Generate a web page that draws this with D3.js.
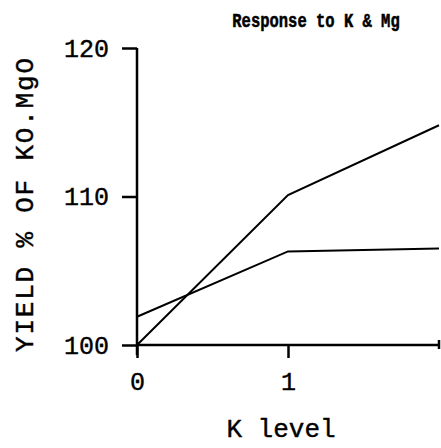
<!DOCTYPE html>
<html>
<head>
<meta charset="utf-8">
<script src="https://cdn.jsdelivr.net/npm/d3@7"></script>
<style>
	body { margin: 0; background: #fff; }
	svg text { font-family: "Liberation Mono", "DejaVu Sans Mono", monospace; fill: #000; stroke: #000; stroke-width: 0.4; }
	.domain, .tick line { stroke: #000; stroke-width: 2.5; }
	.series { fill: none; stroke: #000; stroke-width: 2; }
</style>
</head>
<body>
<svg width="441" height="448"></svg>
<script>
// K levels and yield (% of K0.Mg0)
var kLevels   = [0, 1, 2]
var yieldA    = [100, 110.1, 114.8]
var yieldB    = [101.9, 106.3, 106.5]
var yTicks    = [100, 110, 120]
var xTicks    = [0, 1]

var svg = d3.select("svg")

var x = d3.scaleLinear().domain([0, 2]).range([137, 439])
var y = d3.scaleLinear().domain([100, 120]).range([345, 48])

// y axis
svg.append("g")
	.attr("transform", "translate(" + x(0) + ",0)")
	.call(d3.axisLeft(y).tickValues(yTicks).tickSize(15).tickSizeOuter(0).tickPadding(13).tickFormat(d3.format("d")))
	.call(function(g){
		g.select(".domain").attr("d", "M0," + y(120) + "V" + (y(100) + 10))
		g.selectAll("text").attr("font-size", 25).attr("font-family", "Liberation Mono")
	})

// x axis
svg.append("g")
	.attr("transform", "translate(0," + y(100) + ")")
	.call(d3.axisBottom(x).tickValues(xTicks).tickSize(13).tickSizeOuter(0).tickPadding(14).tickFormat(d3.format("d")))
	.call(function(g){
		g.select(".domain").attr("d", "M" + x(0) + ",0H" + x(2))
		g.selectAll("text").attr("font-size", 25).attr("font-family", "Liberation Mono")
	})

// small end mark at K=2
svg.append("line")
	.attr("x1", x(2)).attr("x2", x(2))
	.attr("y1", y(100) - 5).attr("y2", y(100) + 4)
	.attr("stroke", "#000").attr("stroke-width", 2.5)

var line = d3.line()
	.x(function(d, i){ return x(kLevels[i]) })
	.y(function(d){ return y(d) })

svg.selectAll(".series")
		.data([yieldA, yieldB])
	.enter().append("path")
		.attr("class", "series")
		.attr("d", line)

// labels
svg.append("text")
	.attr("transform", "translate(316,27) scale(1,1.3)")
	.attr("text-anchor", "middle")
	.attr("font-size", 15.5).attr("font-weight", "bold")
	.text("Response to K & Mg")

svg.append("text")
	.attr("x", 281).attr("y", 437)
	.attr("text-anchor", "middle")
	.attr("font-size", 26)
	.text("K level")

svg.append("text")
	.attr("transform", "translate(33,205) rotate(-90)")
	.attr("text-anchor", "middle")
	.attr("font-size", 26)
	.attr("textLength", 294).attr("lengthAdjust", "spacing")
	.text("YIELD % OF KO.MgO")
</script>
</body>
</html>
